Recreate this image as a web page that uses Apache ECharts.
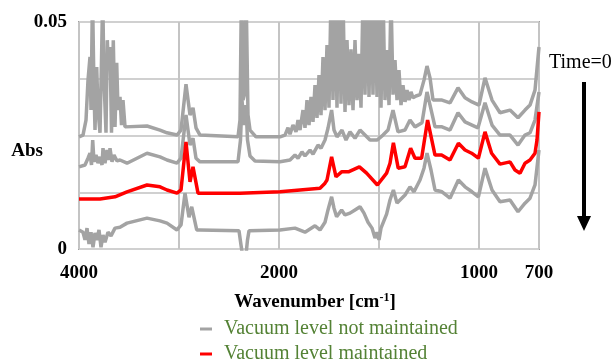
<!DOCTYPE html>
<html>
<head>
<meta charset="utf-8">
<script src="https://cdn.jsdelivr.net/npm/echarts@6/dist/echarts.min.js"></script>
<style>
  html, body { margin: 0; padding: 0; background: #fff; }
  #chart { width: 614px; height: 363px; }
</style>
</head>
<body>
<div id="chart"></div>
<script>
// wavenumber [cm-1], absorbance
var grayTop = [
  [4000,0.0247],[3960,0.0251],[3930,0.0284],[3910,0.0372],[3890,0.0423],[3880,0.0306],[3865,0.056],[3850,0.035],
  [3840,0.0262],[3823,0.0401],[3810,0.0306],[3790,0.0256],[3775,0.0416],[3763,0.056],[3750,0.0372],[3730,0.0256],
  [3717,0.0460],[3705,0.0394],[3690,0.0445],[3675,0.0256],[3657,0.0460],[3640,0.0269],[3623,0.0410],[3610,0.0306],
  [3590,0.0335],[3575,0.0273],[3560,0.0328],[3540,0.0269],[3520,0.0269],[3320,0.0271],[3190,0.0262],[3120,0.0256],
  [3020,0.0251],[2980,0.0262],[2930,0.0363],[2890,0.0295],[2860,0.0311],[2830,0.0267],[2790,0.0251],[2410,0.0247],
  [2390,0.0284],[2375,0.058],[2360,0.0328],[2345,0.034],[2330,0.058],[2310,0.0295],[2290,0.0262],[2230,0.0247],
  [1995,0.0247],[1970,0.0251],[1955,0.0267],[1945,0.0253],[1930,0.0273],[1915,0.0258],[1905,0.0284],[1895,0.0262],
  [1880,0.0306],[1870,0.0267],[1860,0.0328],[1850,0.0273],[1840,0.0335],[1830,0.0280],[1820,0.0361],[1810,0.0289],
  [1800,0.0383],[1790,0.0295],[1780,0.0423],[1770,0.0306],[1760,0.0449],[1750,0.0311],[1740,0.056],[1730,0.0328],
  [1720,0.056],[1710,0.0311],[1700,0.058],[1690,0.032],[1680,0.056],[1670,0.0302],[1660,0.046],[1650,0.0317],
  [1640,0.044],[1630,0.0306],[1620,0.046],[1610,0.0328],[1600,0.043],[1590,0.0311],[1580,0.056],[1570,0.034],
  [1560,0.057],[1550,0.0335],[1540,0.056],[1530,0.034],[1520,0.058],[1510,0.0335],[1500,0.056],[1490,0.0311],
  [1480,0.057],[1470,0.0328],[1460,0.0438],[1450,0.0317],[1440,0.056],[1430,0.034],[1420,0.0416],[1410,0.0328],
  [1400,0.0394],[1390,0.0317],[1380,0.0361],[1370,0.0324],[1360,0.035],[1350,0.0328],[1340,0.0346],[1330,0.0333],
  [1315,0.0337],[1295,0.034],[1275,0.0372],[1260,0.0403],[1245,0.0377],[1230,0.0328],[1185,0.0328],[1145,0.0322],
  [1105,0.0355],[1070,0.0333],[1035,0.0324],[1000,0.0317],[970,0.0377],[935,0.0328],[895,0.0300],[845,0.0306],
  [805,0.0289],[770,0.0306],[745,0.0317],[720,0.035],[700,0.0445]
];
var grayMid = [
  [4000,0.0181],[3940,0.0185],[3910,0.0200],[3890,0.0211],[3875,0.0185],[3863,0.0240],[3850,0.0192],[3830,0.0207],
  [3810,0.0189],[3790,0.0203],[3770,0.0185],[3760,0.0222],[3740,0.0189],[3720,0.0218],[3700,0.0196],[3690,0.0222],
  [3670,0.0192],[3650,0.0207],[3620,0.0194],[3590,0.0196],[3520,0.0189],[3320,0.0211],[3190,0.0203],[3120,0.0196],
  [3020,0.0189],[2980,0.0200],[2930,0.0295],[2890,0.0229],[2860,0.0244],[2830,0.0200],[2790,0.0192],[2410,0.0192],
  [2385,0.0240],[2370,0.0328],[2350,0.0273],[2330,0.0317],[2315,0.0240],[2290,0.0205],[2240,0.0194],[1995,0.0192],
  [1945,0.0196],[1920,0.0207],[1905,0.0200],[1885,0.0214],[1870,0.0205],[1845,0.0218],[1830,0.0209],[1805,0.0229],
  [1790,0.0222],[1770,0.0240],[1755,0.0266],[1737,0.0306],[1725,0.0262],[1710,0.0247],[1685,0.0262],[1665,0.0240],
  [1645,0.0258],[1620,0.0244],[1595,0.0262],[1570,0.0251],[1545,0.0240],[1510,0.0240],[1480,0.0251],[1455,0.0262],
  [1430,0.0306],[1405,0.0258],[1370,0.0262],[1345,0.0284],[1320,0.0269],[1285,0.0278],[1260,0.0346],[1220,0.0269],
  [1185,0.0269],[1145,0.0262],[1105,0.0300],[1070,0.0280],[1035,0.0273],[1005,0.0267],[970,0.0322],[935,0.0273],
  [895,0.0251],[845,0.0251],[805,0.0229],[770,0.0251],[745,0.0256],[720,0.0284],[700,0.0346]
];
var grayLow = [
  [4000,0.0042],[3960,0.0037],[3940,0.0020],[3920,0.0046],[3900,0.0011],[3880,0.0037],[3860,0.0004],[3840,0.0035],
  [3820,0.0020],[3800,0.0042],[3780,0.0004],[3760,0.0031],[3740,0.0015],[3710,0.0037],[3680,0.0029],[3640,0.0046],
  [3590,0.0048],[3520,0.0057],[3320,0.0068],[3190,0.0062],[3120,0.0057],[3020,0.0042],[2980,0.0053],[2940,0.0123],
  [2900,0.0070],[2873,0.0093],[2823,0.0042],[2790,0.0042],[2400,0.0040],[2380,0.0009],[2365,-0.0013],[2330,-0.0013],
  [2315,0.0020],[2300,0.0040],[1995,0.0042],[1920,0.0046],[1870,0.0037],[1820,0.0051],[1795,0.0042],[1770,0.0059],
  [1755,0.0086],[1737,0.0115],[1725,0.0090],[1712,0.0071],[1687,0.0086],[1670,0.0075],[1645,0.0079],[1620,0.0086],
  [1595,0.0093],[1575,0.0079],[1555,0.0059],[1535,0.0046],[1520,0.0024],[1510,0.0037],[1500,0.0020],[1490,0.0046],
  [1462,0.0077],[1445,0.0108],[1428,0.0130],[1410,0.0101],[1395,0.0108],[1370,0.0119],[1345,0.0137],[1325,0.0126],
  [1295,0.0152],[1275,0.0178],[1260,0.0211],[1240,0.0174],[1220,0.0130],[1185,0.0126],[1145,0.0112],[1103,0.0152],
  [1070,0.0137],[1035,0.0126],[1003,0.0115],[970,0.0178],[935,0.0130],[895,0.0104],[845,0.0108],[805,0.0082],
  [770,0.0101],[745,0.0112],[720,0.0141],[700,0.0218]
];
var redSpectrum = [
  [4000,0.0110],[3790,0.0110],[3640,0.0115],[3520,0.0126],[3320,0.0141],[3190,0.0137],[3120,0.0130],[3020,0.0123],
  [2980,0.0130],[2930,0.0236],[2890,0.0148],[2860,0.0181],[2810,0.0123],[2790,0.0123],[2390,0.0123],[1995,0.0126],
  [1795,0.0134],[1770,0.0145],[1760,0.0152],[1737,0.0203],[1715,0.0159],[1687,0.0170],[1653,0.0170],[1598,0.0181],
  [1562,0.0167],[1508,0.0141],[1462,0.0167],[1445,0.0189],[1428,0.0234],[1404,0.0178],[1370,0.0181],[1342,0.0222],
  [1320,0.0200],[1287,0.0200],[1257,0.0284],[1220,0.0207],[1187,0.0207],[1145,0.0196],[1103,0.0233],[1070,0.0218],
  [1037,0.0211],[1003,0.0200],[970,0.0258],[937,0.0211],[895,0.0187],[845,0.0192],[820,0.0174],[795,0.0167],
  [770,0.0189],[745,0.0196],[720,0.0211],[710,0.0240],[700,0.0302]
];

var seriesNames = ['Vacuum level not maintained', 'Vacuum level maintained'];
var xTickLabels = [4000, 2000, 1000, 700];
var yTickLabels = [0, 0.05];

// the wavenumber axis changes scale at 2000 cm-1 (4000-2000 is squeezed 2x)
function toAxis(wn) {
  return wn >= 2000 ? (4000 - wn) / 2 : 1000 + (2000 - wn);
}
function fromAxis(u) {
  return u <= 1000 ? 4000 - 2 * u : 2000 - (u - 1000);
}
function mapSpectrum(list) {
  return list.map(function (p) { return [toAxis(p[0]), p[1]]; });
}

var serif = 'Liberation Serif, Times New Roman, serif';

function lineSeries(name, data, color) {
  return {
    name: name,
    type: 'line',
    data: mapSpectrum(data),
    showSymbol: false,
    symbol: 'none',
    clip: true,
    lineStyle: { color: color, width: 3.5 },
    itemStyle: { color: color }
  };
}

function legendRow(name, top) {
  return {
    data: [name],
    left: 195,
    top: top,
    itemWidth: 12,
    itemHeight: 3,
    icon: 'rect',
    textStyle: { color: '#548235', fontFamily: serif, fontSize: 20, padding: [0, 0, 0, 7] }
  };
}

var myChart = echarts.init(document.getElementById('chart'));
myChart.setOption({
  animation: false,
  grid: {
    left: 79, top: 22, width: 460, height: 227,
    outerBoundsMode: 'none',
    show: true, borderColor: '#a0a0a0', borderWidth: 2, backgroundColor: 'transparent'
  },
  legend: [
    legendRow(seriesNames[0], 314),
    legendRow(seriesNames[1], 339)
  ],
  xAxis: {
    type: 'value',
    min: 0,
    max: 2300,
    interval: 500,
    axisLine: { show: false },
    axisTick: { show: false },
    splitLine: { show: true, lineStyle: { color: '#c4c4c4', width: 2 } },
    axisLabel: {
      margin: 15,
      fontFamily: serif, fontWeight: 'bold', fontSize: 19, color: '#000',
      showMaxLabel: true,
      formatter: function (u) {
        var wn = Math.round(fromAxis(u));
        return xTickLabels.indexOf(wn) >= 0 ? String(wn) : '';
      }
    },
    name: 'Wavenumber [cm{sup|-1}]',
    nameLocation: 'middle',
    nameGap: 43,
    nameMoveOverlap: false,
    nameTextStyle: {
      fontFamily: serif, fontWeight: 'bold', fontSize: 19, color: '#000',
      padding: [0, 0, 0, 12],
      rich: {
        sup: { fontFamily: serif, fontWeight: 'bold', fontSize: 12, color: '#000', verticalAlign: 'top', padding: [0, 0, 8, 0] }
      }
    }
  },
  yAxis: {
    type: 'value',
    min: 0,
    max: 0.05,
    interval: 0.0125,
    axisLine: { show: false },
    axisTick: { show: false },
    splitLine: { show: true, lineStyle: { color: '#d0d0d0', width: 2 } },
    axisLabel: {
      margin: 12,
      fontFamily: serif, fontWeight: 'bold', fontSize: 19, color: '#000',
      formatter: function (v) {
        for (var i = 0; i < yTickLabels.length; i++) {
          if (Math.abs(v - yTickLabels[i]) < 1e-9) return String(yTickLabels[i]);
        }
        return '';
      }
    },
    name: 'Abs',
    nameLocation: 'middle',
    nameRotate: 0,
    nameGap: 36,
    nameMoveOverlap: false,
    nameTextStyle: {
      fontFamily: serif, fontWeight: 'bold', fontSize: 19, color: '#000',
      verticalAlign: 'top',
      padding: [6, 0, 0, 0]
    }
  },
  graphic: [
    {
      type: 'text', left: 549, top: 53,
      style: { text: 'Time=0', fontFamily: serif, fontSize: 20, fill: '#000' }
    },
    {
      type: 'line',
      shape: { x1: 584, y1: 82, x2: 584, y2: 218 },
      style: { stroke: '#000', lineWidth: 4 }
    },
    {
      type: 'polygon',
      shape: { points: [[577, 216], [591, 216], [584, 231]] },
      style: { fill: '#000' }
    }
  ],
  series: [
    lineSeries(seriesNames[0], grayTop, '#a3a3a3'),
    lineSeries(seriesNames[0], grayMid, '#a3a3a3'),
    lineSeries(seriesNames[0], grayLow, '#a3a3a3'),
    lineSeries(seriesNames[1], redSpectrum, '#ff0000')
  ]
});
</script>
</body>
</html>
